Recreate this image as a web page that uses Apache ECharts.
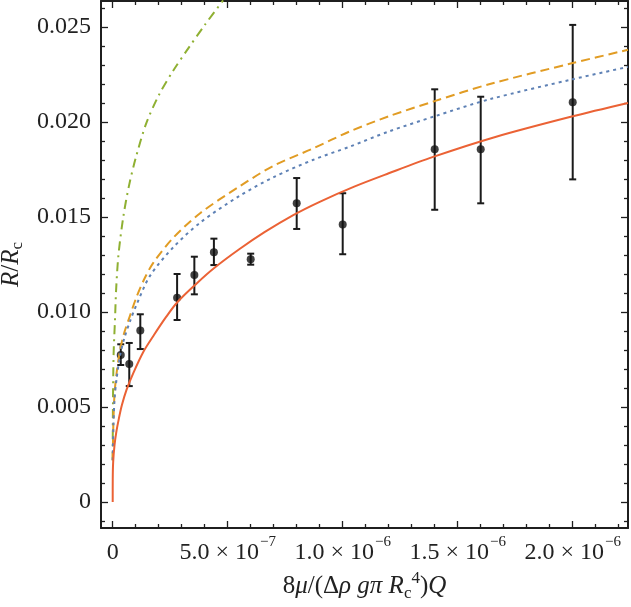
<!DOCTYPE html>
<html><head><meta charset="utf-8">
<script src="https://cdn.jsdelivr.net/npm/echarts@6/dist/echarts.min.js"></script>
<style>html,body{margin:0;padding:0;background:#fff}#c{width:631px;height:607px}</style>
</head><body><div id="c"></div>
<script>
// ---- axis ranges & ticks ----
const xMin = -5.087e-8, xMax = 2.2404e-6;
const yMin = -0.0013684, yMax = 0.026368;
const xMajor = [0, 5e-7, 1e-6, 1.5e-6, 2e-6];
const xMajorMant = ['0', '5.0', '1.0', '1.5', '2.0'];
const xMajorExp = ['', '\u22127', '\u22126', '\u22126', '\u22126'];
const xMinor = [1e-7, 2e-7, 3e-7, 4e-7, 6e-7, 7e-7, 8e-7, 9e-7, 1.1e-6, 1.2e-6, 1.3e-6, 1.4e-6,
  1.6e-6, 1.7e-6, 1.8e-6, 1.9e-6, 2.1e-6, 2.2e-6];
const yMajor = [0, 0.005, 0.010, 0.015, 0.020, 0.025];
const yMajorText = ['0', '0.005', '0.010', '0.015', '0.020', '0.025'];
const yMinor = [-0.001, 0.001, 0.002, 0.003, 0.004, 0.006, 0.007, 0.008, 0.009, 0.011, 0.012, 0.013,
  0.014, 0.016, 0.017, 0.018, 0.019, 0.021, 0.022, 0.023, 0.024, 0.026];

// ---- measured data (points with error bars) ----
const xData = [3.5e-8, 7.2e-8, 1.2e-7, 2.8e-7, 3.55e-7, 4.4e-7, 6.0e-7, 8.0e-7, 1.0e-6, 1.4e-6, 1.6e-6, 2.0e-6];
const yData = [0.00774, 0.00726, 0.00902, 0.01075, 0.01195, 0.01314, 0.01278, 0.01572, 0.01461, 0.01856, 0.01856, 0.02104];
const yLow  = [0.00721, 0.00610, 0.00805, 0.00958, 0.01093, 0.01247, 0.01249, 0.01437, 0.01304, 0.01538, 0.01572, 0.01698];
const yHigh = [0.00830, 0.00837, 0.00988, 0.01200, 0.01291, 0.01386, 0.01307, 0.01705, 0.01625, 0.02172, 0.02133, 0.02511];

// ---- model curves ----
const redCurve = [[0,0],[2e-10,0.0012],[2e-9,0.0021],[8e-9,0.0030],[1.6e-8,0.0037],[2.7e-8,0.0044],
  [4e-8,0.0051],[6e-8,0.0059],[9e-8,0.0068],[1.33e-7,0.0079],[1.8e-7,0.0088],[2.3e-7,0.0097],
  [2.8e-7,0.0105],[3.65e-7,0.0115],[4.4e-7,0.0123],[5.5e-7,0.0133],[6.6e-7,0.0142],[7.85e-7,0.0151],
  [9e-7,0.0158],[1.05e-6,0.0166],[1.2e-6,0.0173],[1.39e-6,0.01815],[1.66e-6,0.0192],[2.0e-6,0.0203],
  [2.24e-6,0.0210]];
const orangeCurve = [[0,0.0022],[3e-9,0.0042],[8e-9,0.0057],[1.7e-8,0.0068],[3.2e-8,0.0080],[5e-8,0.0089],
  [7.5e-8,0.0098],[1.04e-7,0.0108],[1.4e-7,0.0118],[1.77e-7,0.0126],[2.63e-7,0.0139],[3.8e-7,0.0152],
  [5.5e-7,0.0166],[7e-7,0.0177],[8.7e-7,0.0186],[1.03e-6,0.0195],[1.2e-6,0.0203],[1.4e-6,0.0211],
  [1.64e-6,0.0220],[2.0e-6,0.0231],[2.24e-6,0.0238]];
const blueCurve = [[0,0.0022],[3e-9,0.0040],[8e-9,0.0054],[1.7e-8,0.0065],[3.2e-8,0.0077],[5e-8,0.0086],
  [7.5e-8,0.0095],[1.04e-7,0.0104],[1.62e-7,0.0119],[2.63e-7,0.0134],[3.8e-7,0.0147],[5.5e-7,0.0161],
  [7e-7,0.0171],[8.7e-7,0.0180],[1.03e-6,0.0187],[1.2e-6,0.0195],[1.4e-6,0.0203],[1.64e-6,0.0212],
  [2.0e-6,0.02225],[2.24e-6,0.0229]];
const greenCurve = [[0,0.0022],[1e-9,0.0050],[4e-9,0.0078],[1e-8,0.0096],[1.5e-8,0.0112],[2.5e-8,0.0130],
  [4.6e-8,0.0150],[7e-8,0.0166],[1e-7,0.0181],[1.45e-7,0.0199],[2e-7,0.0214],[2.63e-7,0.0227],
  [3.3e-7,0.0239],[4.0e-7,0.0251],[4.8e-7,0.0264]];

const FONT = 'Liberation Serif';
const INK = '#1f1f1f';
const chart = echarts.init(document.getElementById('c'), null, {renderer: 'canvas'});

function xAxisDef(pos, ticks, len, withLine, withLabel) {
  return {
    type: 'value', position: pos, min: xMin, max: xMax, gridIndex: 0,
    axisLine: {show: withLine, onZero: false, lineStyle: {color: INK, width: 2}},
    axisTick: {show: true, inside: true, length: len, customValues: ticks, lineStyle: {color: INK, width: 1.3}},
    axisLabel: withLabel ? {
      show: true, customValues: xMajor, margin: 7, color: '#222',
      formatter: function (v) {
        let i = xMajor.findIndex(t => Math.abs(t - v) < 1e-12);
        if (i < 0) return '';
        if (!xMajorExp[i]) return '{m|' + xMajorMant[i] + '}';
        return '{m|' + xMajorMant[i] + ' \u00d7 10}{s|' + xMajorExp[i] + '}';
      },
      rich: {
        m: {fontFamily: FONT, fontSize: 24, color: '#222', lineHeight: 30, verticalAlign: 'bottom'},
        s: {fontFamily: FONT, fontSize: 15, color: '#222', lineHeight: 30, verticalAlign: 'top', padding: [0, 0, 0, 1]}
      }
    } : {show: false},
    splitLine: {show: false}, minorTick: {show: false}
  };
}
function yAxisDef(pos, ticks, len, withLine, withLabel) {
  return {
    type: 'value', position: pos, min: yMin, max: yMax, gridIndex: 0,
    axisLine: {show: withLine, onZero: false, lineStyle: {color: INK, width: 2}},
    axisTick: {show: true, inside: true, length: len, customValues: ticks, lineStyle: {color: INK, width: 1.3}},
    axisLabel: withLabel ? {
      show: true, customValues: yMajor, margin: 10, color: '#222',
      fontFamily: FONT, fontSize: 24,
      formatter: function (v) {
        let i = yMajor.findIndex(t => Math.abs(t - v) < 1e-9);
        return i < 0 ? '' : yMajorText[i];
      }
    } : {show: false},
    splitLine: {show: false}, minorTick: {show: false}
  };
}

const xA = [
  xAxisDef('bottom', xMajor, 7, true, true),
  xAxisDef('bottom', xMinor, 4, false, false),
  xAxisDef('top', xMajor, 7, true, false),
  xAxisDef('top', xMinor, 4, false, false)
];
xA[0].name = '{n|8}{i|\u03bc}{n|/(\u0394}{i|\u03c1 g\u03c0 R}{sub|c}{sup|4}{n|)}{i|Q}';
xA[0].nameLocation = 'middle';
xA[0].nameGap = 42;
xA[0].nameTextStyle = {
  rich: {
    n: {fontFamily: FONT, fontSize: 25, color: '#222', lineHeight: 32, verticalAlign: 'middle'},
    i: {fontFamily: FONT, fontSize: 25, fontStyle: 'italic', color: '#222', lineHeight: 32, verticalAlign: 'middle'},
    sub: {fontFamily: FONT, fontSize: 17, color: '#222', lineHeight: 16, verticalAlign: 'bottom'},
    sup: {fontFamily: FONT, fontSize: 17, color: '#222', lineHeight: 16, verticalAlign: 'top'}
  }
};
const yA = [
  yAxisDef('left', yMajor, 7, true, true),
  yAxisDef('left', yMinor, 4, false, false),
  yAxisDef('right', yMajor, 7, true, false),
  yAxisDef('right', yMinor, 4, false, false)
];
yA[0].name = '{i|R}{n|/}{i|R}{sub|c}';
yA[0].nameLocation = 'middle';
yA[0].nameRotate = 90;
yA[0].nameGap = 71;
yA[0].nameTextStyle = {
  rich: {
    n: {fontFamily: FONT, fontSize: 25, color: '#222', lineHeight: 30, verticalAlign: 'middle'},
    i: {fontFamily: FONT, fontSize: 25, fontStyle: 'italic', color: '#222', lineHeight: 30, verticalAlign: 'middle'},
    sub: {fontFamily: FONT, fontSize: 17, color: '#222', lineHeight: 18, verticalAlign: 'bottom'}
  }
};

function curve(data, color, type) {
  return {
    type: 'line', data: data, xAxisIndex: 0, yAxisIndex: 0, showSymbol: false, symbol: 'none',
    smooth: 0.3, clip: true, silent: true, animation: false,
    lineStyle: {color: color, width: 2, type: type}
  };
}

const errData = xData.map((x, i) => [x, yLow[i], yHigh[i]]);
const ptData = xData.map((x, i) => [x, yData[i]]);

chart.setOption({
  animation: false,
  backgroundColor: '#ffffff',
  grid: {left: 101, right: 3, top: 1, bottom: 79, containLabel: false, outerBoundsMode: 'none'},
  xAxis: xA,
  yAxis: yA,
  series: [
    curve(greenCurve, '#8FB032', [9, 5, 2, 5]),
    curve(orangeCurve, '#E19C24', [9, 5]),
    curve(blueCurve, '#5E81B5', [3, 4]),
    curve(redCurve, '#EB6235', 'solid'),
    {
      type: 'custom', xAxisIndex: 0, yAxisIndex: 0, data: errData, silent: true,
      encode: {x: 0, y: [1, 2]},
      renderItem: function (params, api) {
        const x = api.value(0);
        const lo = api.coord([x, api.value(1)]);
        const hi = api.coord([x, api.value(2)]);
        const hw = 3.5;
        const st = {stroke: '#1a1a1a', lineWidth: 2};
        return {type: 'group', children: [
          {type: 'line', shape: {x1: lo[0], y1: lo[1], x2: hi[0], y2: hi[1]}, style: st},
          {type: 'line', shape: {x1: lo[0] - hw, y1: lo[1], x2: lo[0] + hw, y2: lo[1]}, style: st},
          {type: 'line', shape: {x1: hi[0] - hw, y1: hi[1], x2: hi[0] + hw, y2: hi[1]}, style: st}
        ]};
      }
    },
    {
      type: 'scatter', xAxisIndex: 0, yAxisIndex: 0, data: ptData, symbol: 'circle', symbolSize: 8,
      itemStyle: {color: '#111'}, silent: true
    }
  ]
});
</script></body></html>
